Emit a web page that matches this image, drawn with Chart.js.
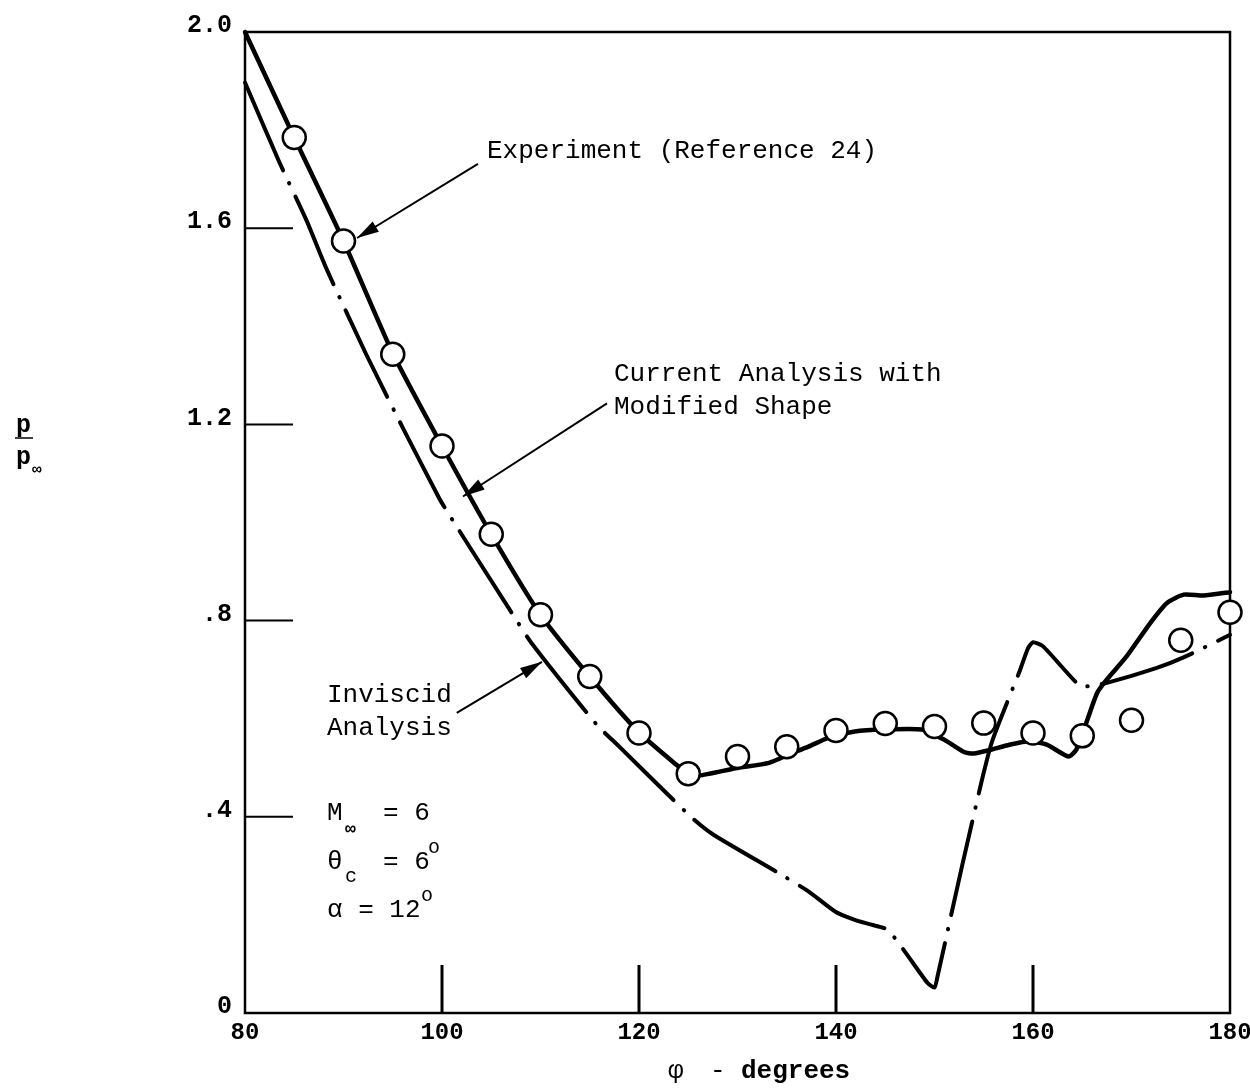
<!DOCTYPE html>
<html><head><meta charset="utf-8">
<script src="https://cdn.jsdelivr.net/npm/chart.js@4.4.0/dist/chart.umd.min.js"></script>
<style>html,body{margin:0;padding:0;background:#fff}#wrap{width:1250px;height:1091px;position:relative}</style>
</head><body><div id="wrap"><canvas id="c"></canvas></div>
<script>
// ---- axis ticks ----
const xTickValues = [80, 100, 120, 140, 160, 180];
const xTickLabels = ['80', '100', '120', '140', '160', '180'];
const yTickValues = [0, 0.4, 0.8, 1.2, 1.6, 2.0];
const yTickLabels = ['0', '.4', '.8', '1.2', '1.6', '2.0'];
const innerXTicks = [100, 120, 140, 160];
const innerYTicks = [0.4, 0.8, 1.2, 1.6];

// ---- Experiment (Reference 24) ----
const experimentPhi = [85, 90, 95, 100, 105, 110, 115, 120, 125, 130, 135, 140, 145, 150, 155, 160, 165, 170, 175, 180];
const experimentP = [1.785, 1.574, 1.343, 1.156, 0.976, 0.812, 0.686, 0.571, 0.488, 0.523, 0.543, 0.576, 0.590, 0.584, 0.591, 0.571, 0.565, 0.597, 0.760, 0.817];

// ---- Current Analysis with Modified Shape ----
const currentPhi = [80, 85, 90, 95, 100, 105, 110, 115, 120, 123.8, 125, 126.1, 129.8, 133.2, 135.2, 137.2, 139.2, 141.9, 144.9, 148.7, 151.0, 153.0, 154.0, 155.6, 157.6, 159.7, 161.4, 163.6, 164.4, 165.4, 166.5, 167.5, 169.5, 171.9, 173.6, 175.3, 177.3, 180];
const currentP = [2.0, 1.785, 1.574, 1.345, 1.156, 0.976, 0.812, 0.686, 0.572, 0.506, 0.488, 0.484, 0.499, 0.510, 0.527, 0.543, 0.561, 0.574, 0.578, 0.578, 0.557, 0.532, 0.529, 0.536, 0.547, 0.554, 0.547, 0.523, 0.537, 0.591, 0.652, 0.680, 0.727, 0.795, 0.836, 0.853, 0.851, 0.858];

// ---- Inviscid Analysis ----
const inviscidPhi = [80, 83.5, 86.2, 88.3, 92.3, 96.1, 99.7, 100.5, 107.2, 109.1, 115.7, 118.0, 122.8, 125.6, 127.6, 134.2, 137.2, 139.9, 141.9, 143.6, 145.3, 149.3, 150.0, 150.3, 152.8, 154.9, 155.9, 158.7, 159.5, 160.0, 161.0, 164.8, 165.8, 167.5, 172.5, 175.4, 180];
const inviscidP = [1.897, 1.734, 1.618, 1.516, 1.343, 1.190, 1.050, 1.023, 0.812, 0.754, 0.588, 0.543, 0.448, 0.394, 0.363, 0.285, 0.248, 0.207, 0.190, 0.180, 0.169, 0.061, 0.052, 0.074, 0.300, 0.482, 0.557, 0.700, 0.744, 0.756, 0.748, 0.666, 0.667, 0.673, 0.703, 0.726, 0.771];

const mkPts = (xs, ys) => xs.map((x, i) => ({x: x, y: ys[i]}));
const MONO = '"Liberation Mono", "DejaVu Sans Mono", monospace';

function arrow(ctx, x1, y1, x2, y2) {
  ctx.lineWidth = 2;
  ctx.beginPath(); ctx.moveTo(x1, y1); ctx.lineTo(x2, y2); ctx.stroke();
  const ang = Math.atan2(y2 - y1, x2 - x1), L = 22, W = 6;
  ctx.beginPath(); ctx.moveTo(x2, y2);
  ctx.lineTo(x2 - L * Math.cos(ang) + W * Math.sin(ang), y2 - L * Math.sin(ang) - W * Math.cos(ang));
  ctx.lineTo(x2 - L * Math.cos(ang) - W * Math.sin(ang), y2 - L * Math.sin(ang) + W * Math.cos(ang));
  ctx.closePath(); ctx.fill();
}

const framePlugin = {
  id: 'frame',
  beforeDatasetsDraw(chart) {
    const {ctx, chartArea: a, scales: {x, y}} = chart;
    ctx.save();
    ctx.strokeStyle = '#000';
    ctx.lineWidth = 2.5;
    ctx.strokeRect(a.left, a.top, a.right - a.left, a.bottom - a.top);
    ctx.lineWidth = 2;
    innerYTicks.forEach(v => {
      const py = y.getPixelForValue(v);
      ctx.beginPath(); ctx.moveTo(a.left, py); ctx.lineTo(a.left + 48, py); ctx.stroke();
    });
    ctx.lineWidth = 3;
    innerXTicks.forEach(v => {
      const px = x.getPixelForValue(v);
      ctx.beginPath(); ctx.moveTo(px, a.bottom); ctx.lineTo(px, a.bottom - 48); ctx.stroke();
    });
    ctx.restore();
  },
  afterDatasetsDraw(chart) {
    const {ctx, scales: {x, y}} = chart;
    const X = v => x.getPixelForValue(v), Y = v => y.getPixelForValue(v);
    ctx.save();
    ctx.fillStyle = '#000'; ctx.strokeStyle = '#000';
    ctx.textBaseline = 'middle'; ctx.textAlign = 'left';
    ctx.font = '26px ' + MONO;
    // labels
    ctx.fillText('Experiment (Reference 24)', X(104.57), Y(1.757));
    ctx.fillText('Current Analysis with', X(117.46), Y(1.302));
    ctx.fillText('Modified Shape', X(117.46), Y(1.235));
    ctx.fillText('Inviscid', X(88.32), Y(0.649));
    ctx.fillText('Analysis', X(88.32), Y(0.580));
    // arrows
    arrow(ctx, X(103.65), Y(1.731), X(91.37), Y(1.580));
    arrow(ctx, X(116.75), Y(1.243), X(102.13), Y(1.053));
    arrow(ctx, X(101.5), Y(0.612), X(110.15), Y(0.716));
    // flight conditions
    const lx = X(88.32);
    ctx.font = '26px ' + MONO;
    ctx.fillText('M', lx, Y(0.408));
    ctx.fillText('= 6', lx + 56, Y(0.408));
    ctx.font = 'bold 18px ' + MONO;
    ctx.fillText('\u221E', lx + 18, Y(0.408) + 17);
    ctx.font = '26px ' + MONO;
    ctx.fillText('\u03B8', lx, Y(0.308));
    ctx.fillText('= 6', lx + 56, Y(0.308));
    ctx.font = '20px ' + MONO;
    ctx.fillText('c', lx + 18, Y(0.308) + 15);
    ctx.fillText('o', lx + 101, Y(0.308) - 14);
    ctx.font = '26px ' + MONO;
    ctx.fillText('\u03B1 = 12', lx, Y(0.210));
    ctx.font = '20px ' + MONO;
    ctx.fillText('o', lx + 94, Y(0.210) - 14);
    // axis titles
    ctx.font = '26px ' + MONO;
    ctx.fillText('\u03C6', 668, 1071);
    ctx.fillText('-', 710, 1071);
    ctx.font = 'bold 26px ' + MONO;
    ctx.fillText('degrees', 741, 1071);
    ctx.font = 'bold 25px ' + MONO;
    ctx.fillText('p', 16, 426);
    ctx.lineWidth = 1.5;
    ctx.beginPath(); ctx.moveTo(15, 438); ctx.lineTo(33, 438); ctx.stroke();
    ctx.fillText('p', 16, 458);
    ctx.font = 'bold 16px ' + MONO;
    ctx.fillText('\u221E', 32, 470);
    ctx.restore();
  }
};

new Chart(document.getElementById('c'), {
  type: 'scatter',
  data: {
    datasets: [
      { label: 'Experiment (Reference 24)', data: mkPts(experimentPhi, experimentP), showLine: false,
        pointRadius: 11.5, pointHoverRadius: 11.5, pointBorderWidth: 2.5, pointBackgroundColor: '#fff',
        pointBorderColor: '#000', clip: false, order: 0 },
      { label: 'Current Analysis with Modified Shape', data: mkPts(currentPhi, currentP), showLine: true,
        borderColor: '#000', borderWidth: 4.5, pointRadius: 0, tension: 0.2, clip: false, order: 1,
        borderJoinStyle: 'round', borderCapStyle: 'round' },
      { label: 'Inviscid Analysis', data: mkPts(inviscidPhi, inviscidP), showLine: true,
        borderColor: '#000', borderWidth: 4, pointRadius: 0, tension: 0.2, clip: false, order: 2,
        borderDash: [96, 14, 0.5, 14], borderCapStyle: 'round', borderJoinStyle: 'round' }
    ]
  },
  options: {
    responsive: true, maintainAspectRatio: false, animation: false,
    layout: { padding: { top: 32, right: 20, left: 0, bottom: 0 } },
    plugins: { legend: { display: false }, tooltip: { enabled: false } },
    scales: {
      x: {
        type: 'linear', min: 80, max: 180,
        grid: { display: false, drawTicks: false }, border: { display: false },
        afterBuildTicks: s => { s.ticks = xTickValues.map(v => ({ value: v })); },
        afterFit: s => { s.height = 78; s.paddingLeft = 0; s.paddingRight = 0; },
        ticks: { autoSkip: false, maxRotation: 0, padding: 6, color: '#000',
          font: { family: MONO, size: 24, weight: 'bold' },
          callback: (v, i) => xTickLabels[i] }
      },
      y: {
        type: 'linear', min: 0, max: 2,
        grid: { display: false, drawTicks: false }, border: { display: false },
        afterBuildTicks: s => { s.ticks = yTickValues.map(v => ({ value: v })); },
        afterFit: s => { s.width = 245; s.paddingTop = 0; s.paddingBottom = 0; },
        ticks: { autoSkip: false, padding: 13, color: '#000', labelOffset: -6,
          font: { family: MONO, size: 25, weight: 'bold' },
          callback: (v, i) => yTickLabels[i] }
      }
    }
  },
  plugins: [framePlugin]
});
</script></body></html>
